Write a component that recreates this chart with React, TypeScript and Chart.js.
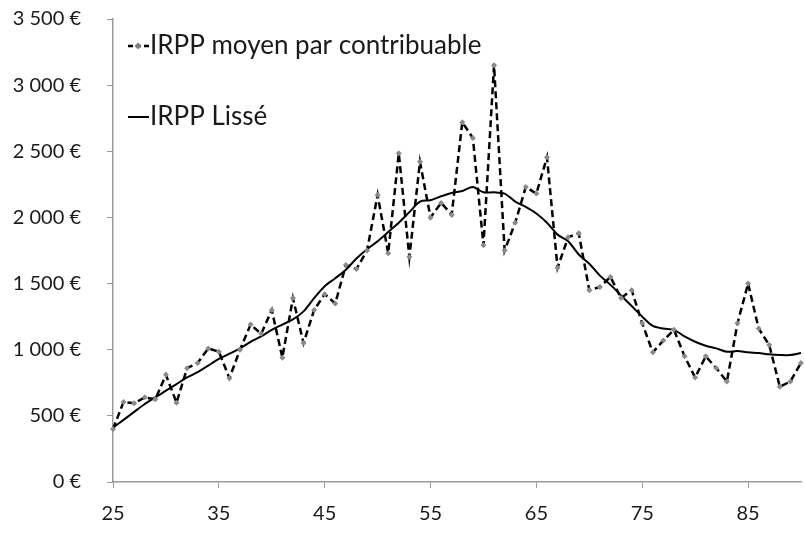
import React, { useEffect, useRef } from "react";
import { Chart, registerables } from "chart.js";

Chart.register(...registerables);

const ages: string[] = [
  "25","26","27","28","29","30","31","32","33","34","35","36","37","38","39","40","41","42","43","44",
  "45","46","47","48","49","50","51","52","53","54","55","56","57","58","59","60","61","62","63","64",
  "65","66","67","68","69","70","71","72","73","74","75","76","77","78","79","80","81","82","83","84",
  "85","86","87","88","89","90",
];

const irppMoyen: number[] = [
  400, 605, 595, 640, 625, 810, 600, 860, 900, 1010, 985, 785, 1000, 1190, 1120, 1300, 940, 1390, 1050, 1300,
  1420, 1350, 1640, 1610, 1750, 2170, 1730, 2485, 1700, 2420, 2000, 2110, 2020, 2720, 2600, 1790, 3150, 1750, 1960, 2230,
  2180, 2455, 1620, 1850, 1880, 1450, 1475, 1550, 1390, 1450, 1200, 980, 1070, 1150, 950, 790, 950, 860, 760, 1200,
  1500, 1160, 1035, 720, 760, 900,
];

const irppLisse: number[] = [
  410, 470, 530, 590, 640, 690, 740, 790, 830, 880, 930, 970, 1010, 1060, 1100, 1150, 1190, 1230, 1290, 1390,
  1480, 1540, 1605, 1690, 1760, 1820, 1890, 1960, 2040, 2120, 2130, 2160, 2185, 2200, 2230, 2190, 2190, 2180, 2120, 2080,
  2030, 1960, 1870, 1820, 1720, 1650, 1560, 1490, 1410, 1330, 1250, 1180, 1160, 1150, 1100, 1060, 1030, 1010, 985, 990,
  980, 975, 965, 960, 960, 975,
];

const yTicks: number[] = [0, 500, 1000, 1500, 2000, 2500, 3000, 3500];
const xTickLabels: string[] = ["25", "35", "45", "55", "65", "75", "85"];
const seriesNames: string[] = ["IRPP moyen par contribuable", "IRPP Lissé"];

const FONT = "Lato, 'Open Sans', sans-serif";

function fmtEuro(v: number): string {
  const s = String(Math.round(v));
  const parts: string[] = [];
  for (let i = s.length; i > 0; i -= 3) parts.unshift(s.substring(Math.max(0, i - 3), i));
  return parts.join(" ") + " €";
}

const legendPlugin = {
  id: "inlineLegend",
  afterDraw(chart: any) {
    const ctx = chart.ctx;
    const rows = [46, 117];
    ctx.save();
    ctx.font = `26px ${FONT}`;
    ctx.textBaseline = "middle";
    ctx.strokeStyle = "#000";
    ctx.lineWidth = 2.5;
    ctx.setLineDash([5, 3]);
    ctx.beginPath();
    ctx.moveTo(128, rows[0]);
    ctx.lineTo(149, rows[0]);
    ctx.stroke();
    ctx.setLineDash([]);
    ctx.fillStyle = "#808080";
    ctx.beginPath();
    ctx.moveTo(138, rows[0] - 3.5);
    ctx.lineTo(141.5, rows[0]);
    ctx.lineTo(138, rows[0] + 3.5);
    ctx.lineTo(134.5, rows[0]);
    ctx.closePath();
    ctx.fill();
    ctx.strokeStyle = "#000";
    ctx.lineWidth = 2;
    ctx.beginPath();
    ctx.moveTo(128, rows[1]);
    ctx.lineTo(149, rows[1]);
    ctx.stroke();
    ctx.fillStyle = "#1a1a1a";
    ctx.fillText(seriesNames[0], 150, rows[0]);
    ctx.fillText(seriesNames[1], 150, rows[1]);
    ctx.restore();
  },
};

export default function App() {
  const ref = useRef<HTMLCanvasElement | null>(null);
  useEffect(() => {
    if (!ref.current) return;
    const chart = new Chart(ref.current, {
      type: "line",
      data: {
        labels: ages,
        datasets: [
          {
            label: seriesNames[0],
            data: irppMoyen,
            borderColor: "#000",
            borderWidth: 2.5,
            borderDash: [7, 4],
            pointStyle: "rectRot",
            pointRadius: 3,
            pointBackgroundColor: "#8a8a8a",
            pointBorderColor: "#8a8a8a",
            pointBorderWidth: 0,
            tension: 0,
          },
          {
            label: seriesNames[1],
            data: irppLisse,
            borderColor: "#000",
            borderWidth: 2,
            pointRadius: 0,
            tension: 0.3,
          },
        ],
      },
      plugins: [legendPlugin],
      options: {
        animation: false,
        responsive: true,
        maintainAspectRatio: false,
        layout: { padding: { top: 19, right: 3, left: 0, bottom: 0 } },
        plugins: { legend: { display: false }, tooltip: { enabled: false } },
        scales: {
          x: {
            type: "category",
            offset: false,
            border: { display: true, color: "#9a9a9a", width: 1.5 },
            grid: {
              drawOnChartArea: false,
              drawTicks: true,
              tickLength: 6,
              color: (c: any) => (xTickLabels.includes(ages[c.index]) ? "#9a9a9a" : "rgba(0,0,0,0)"),
            },
            ticks: {
              autoSkip: false,
              maxRotation: 0,
              padding: 14,
              color: "#1a1a1a",
              font: { family: FONT, size: 20 },
              callback: (_v: any, i: number) => (xTickLabels.includes(ages[i]) ? ages[i] : ""),
            },
            afterFit: (s: any) => {
              s.height = 52;
              s.paddingLeft = 0;
              s.paddingRight = 0;
            },
          },
          y: {
            type: "linear",
            min: yTicks[0],
            max: yTicks[yTicks.length - 1],
            border: { display: true, color: "#9a9a9a", width: 1.5 },
            grid: { drawOnChartArea: false, drawTicks: true, tickLength: 6, color: "#9a9a9a" },
            afterBuildTicks: (s: any) => {
              s.ticks = yTicks.map((v) => ({ value: v }));
            },
            ticks: {
              padding: 26,
              color: "#1a1a1a",
              font: { family: FONT, size: 20 },
              callback: (v: any) => fmtEuro(Number(v)),
            },
            afterFit: (s: any) => {
              s.width = 113;
              s.paddingTop = 0;
              s.paddingBottom = 0;
            },
          },
        },
      },
    });
    return () => chart.destroy();
  }, []);
  return (
    <div style={{ position: "absolute", left: 0, top: 0, width: 805, height: 534, background: "#fff" }}>
      <canvas ref={ref} />
    </div>
  );
}
